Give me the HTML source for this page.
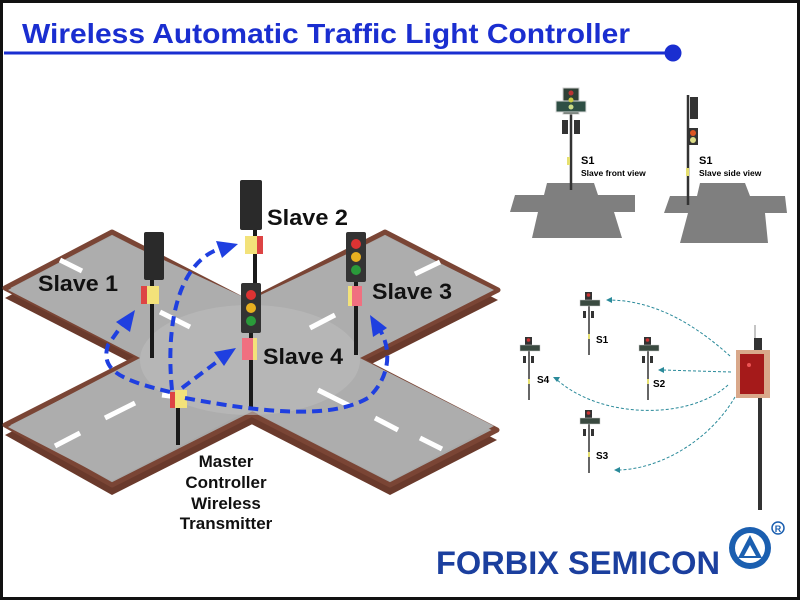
<!DOCTYPE html>
<html><head><meta charset="utf-8"><style>
html,body{margin:0;padding:0;background:#fff}
svg{display:block}
text{font-family:"Liberation Sans",Arial,sans-serif}
</style></head><body>
<svg width="800" height="600" viewBox="0 0 800 600" xmlns="http://www.w3.org/2000/svg">
<rect x="1.5" y="1.5" width="797" height="597" fill="#fff" stroke="#111" stroke-width="3"/>
<text x="22" y="43" font-size="28" font-weight="bold" fill="#1a2ed0" textLength="608" lengthAdjust="spacingAndGlyphs">Wireless Automatic Traffic Light Controller</text>
<line x1="4" y1="53" x2="672" y2="53" stroke="#1a2ed0" stroke-width="3"/>
<circle cx="673" cy="53" r="8.5" fill="#1a2ed0"/>

<g fill="#6a3a2c">
<polygon points="112,242 5,298 390,495 497,440"/>
<polygon points="385,242 498,300 112,495 5,435"/>
</g>
<g fill="#a8a8a8" stroke="#7a4535" stroke-width="5" stroke-linejoin="round">
<polygon points="112,232 5,288 390,485 497,430"/>
<polygon points="385,232 498,290 112,485 5,425"/>
</g>
<polygon points="112,236 250,300 385,236 494,290 360,358 494,426 390,481 250,410 112,481 8,427 140,358 8,290" fill="#adadad"/>
<ellipse cx="250" cy="360" rx="110" ry="55" fill="#bdbdbd" opacity="0.6"/>
<g stroke="#fff" stroke-width="5">
<line x1="60" y1="260" x2="82" y2="271"/><line x1="160" y1="312" x2="190" y2="327"/>
<line x1="440" y1="262" x2="415" y2="274"/><line x1="335" y1="315" x2="310" y2="328"/>
<line x1="318" y1="390" x2="350" y2="406"/><line x1="375" y1="418" x2="398" y2="430"/><line x1="420" y1="438" x2="442" y2="449"/>
<line x1="135" y1="403" x2="105" y2="418"/><line x1="80" y1="433" x2="55" y2="446"/>
<line x1="162" y1="395" x2="185" y2="398"/>
</g>

<g stroke="#1a1a1a" stroke-width="4">
<line x1="152" y1="275" x2="152" y2="358"/>
<line x1="255" y1="225" x2="255" y2="290"/>
<line x1="251" y1="330" x2="251" y2="410"/>
<line x1="356" y1="280" x2="356" y2="355"/>
<line x1="178" y1="405" x2="178" y2="445"/>
</g>
<rect x="144" y="232" width="20" height="48" rx="2" fill="#2a2a2a"/>
<rect x="240" y="180" width="22" height="50" rx="2" fill="#2a2a2a"/>
<rect x="241" y="283" width="20" height="50" rx="2" fill="#333"/>
<circle cx="251" cy="295" r="5" fill="#d33"/><circle cx="251" cy="308" r="5" fill="#e8b020"/><circle cx="251" cy="321" r="5" fill="#2a9a3a"/>
<rect x="346" y="232" width="20" height="50" rx="2" fill="#333"/>
<circle cx="356" cy="244" r="5" fill="#d33"/><circle cx="356" cy="257" r="5" fill="#e8b020"/><circle cx="356" cy="270" r="5" fill="#2a9a3a"/>
<rect x="141" y="286" width="6" height="18" fill="#d44"/><rect x="147" y="286" width="12" height="18" fill="#f3e27a"/>
<rect x="245" y="236" width="12" height="18" fill="#f3e27a"/><rect x="257" y="236" width="6" height="18" fill="#d44"/>
<rect x="348" y="286" width="14" height="20" fill="#f07080"/><rect x="348" y="286" width="4" height="20" fill="#f3e27a"/>
<rect x="242" y="338" width="14" height="22" fill="#f07080"/><rect x="253" y="338" width="4" height="22" fill="#f3e27a"/>
<rect x="170" y="392" width="6" height="16" fill="#d44"/><rect x="175" y="390" width="12" height="18" fill="#f3e27a"/>

<g fill="none" stroke="#1f3fe0" stroke-width="4" stroke-dasharray="10,6">
<path d="M170,392 C120,380 100,370 108,345 L122,325"/>
<path d="M172,390 C165,320 180,260 222,248"/>
<path d="M182,388 L222,358"/>
<path d="M185,398 C260,412 330,420 368,398 C390,378 392,350 380,330"/>
</g>
<g fill="#1f3fe0">
<polygon points="135,310 130,332 116,322"/>
<polygon points="238,244 222,258 216,241"/>
<polygon points="236,348 224,366 214,352"/>
<polygon points="370,315 387,328 373,337"/>
</g>

<g font-size="22" font-weight="bold" fill="#111">
<text x="38" y="291" textLength="80" lengthAdjust="spacingAndGlyphs">Slave 1</text>
<text x="267" y="225" textLength="81" lengthAdjust="spacingAndGlyphs">Slave 2</text>
<text x="372" y="299" textLength="80" lengthAdjust="spacingAndGlyphs">Slave 3</text>
<text x="263" y="364" textLength="80" lengthAdjust="spacingAndGlyphs">Slave 4</text>
</g>
<g font-size="17" font-weight="bold" fill="#111" text-anchor="middle">
<text x="226" y="467">Master</text><text x="226" y="488">Controller</text>
<text x="226" y="509">Wireless</text><text x="226" y="529">Transmitter</text>
</g>

<g fill="#7f7f7f">
<polygon points="547,183 594,183 598,195 635,195 635,212 614,212 622,238 532,238 538,212 510,212 515,195 544,195"/>
<polygon points="700,183 745,183 750,196 785,196 787,213 765,213 768,243 680,243 688,213 664,213 670,196 697,196"/>
</g>
<line x1="571" y1="110" x2="571" y2="190" stroke="#333" stroke-width="2.5"/>
<rect x="563" y="88" width="16" height="26" fill="#2f3f35" stroke="#ccc"/>
<rect x="556" y="101" width="30" height="11" fill="#2f4f45" stroke="#ddd"/>
<circle cx="571" cy="93" r="2.5" fill="#b33"/><circle cx="571" cy="100" r="2.5" fill="#cc4"/><circle cx="571" cy="107" r="2.5" fill="#cd8"/>
<rect x="562" y="120" width="6" height="14" fill="#333"/><rect x="574" y="120" width="6" height="14" fill="#333"/>
<rect x="567" y="157" width="3" height="8" fill="#e6e070"/>
<line x1="688" y1="95" x2="688" y2="205" stroke="#333" stroke-width="2.5"/>
<rect x="690" y="97" width="8" height="22" fill="#333"/>
<rect x="689" y="128" width="9" height="17" fill="#333"/>
<circle cx="693" cy="133" r="3" fill="#d52"/><circle cx="693" cy="140" r="3" fill="#dd8"/>
<rect x="686" y="168" width="3" height="8" fill="#e6e070"/>
<text x="581" y="164" font-size="11" font-weight="bold">S1</text>
<text x="581" y="176" font-size="8.5" font-weight="bold">Slave front view</text>
<text x="699" y="164" font-size="11" font-weight="bold">S1</text>
<text x="699" y="176" font-size="8.5" font-weight="bold">Slave side view</text>

<g id="sp">
<line x1="589" y1="298" x2="589" y2="355" stroke="#333" stroke-width="1.5"/>
<rect x="585" y="292" width="7" height="12" fill="#333"/><circle cx="588.5" cy="295" r="1.8" fill="#c33"/>
<rect x="580" y="300" width="20" height="6" fill="#3a4a40" stroke="#ccc" stroke-width="0.5"/>
<rect x="583" y="311" width="3" height="7" fill="#333"/><rect x="591" y="311" width="3" height="7" fill="#333"/>
<rect x="588" y="334" width="2" height="5" fill="#e6e070"/>
</g>
<use href="#sp" x="-60" y="45"/><use href="#sp" x="59" y="45"/><use href="#sp" x="0" y="118"/>
<g font-size="10" font-weight="bold">
<text x="596" y="343">S1</text><text x="537" y="383">S4</text><text x="653" y="387">S2</text><text x="596" y="459">S3</text>
</g>
<line x1="760" y1="398" x2="760" y2="510" stroke="#333" stroke-width="4"/>
<line x1="755" y1="325" x2="755" y2="340" stroke="#888" stroke-width="1"/>
<rect x="754" y="338" width="8" height="12" fill="#333"/>
<rect x="736" y="350" width="34" height="48" fill="#d9a88a"/>
<rect x="740" y="354" width="24" height="40" fill="#a51a1a"/>
<circle cx="749" cy="365" r="2" fill="#e55"/>
<g fill="none" stroke="#2a8a9a" stroke-width="1" stroke-dasharray="3,2">
<path d="M730,356 C690,320 650,300 608,300"/>
<path d="M731,372 L662,370"/>
<path d="M728,385 C690,420 600,420 555,378"/>
<path d="M735,397 C710,440 660,470 616,470"/>
</g>
<g fill="#2a8a9a">
<polygon points="606,300 612,297 612,303"/><polygon points="658,370 664,367 664,373"/>
<polygon points="553,377 560,377 557,382"/><polygon points="614,470 620,467 620,473"/>
</g>

<text x="436" y="574" font-size="32" font-weight="bold" fill="#1b3f9e" textLength="284" lengthAdjust="spacingAndGlyphs">FORBIX SEMICON</text>
<circle cx="750" cy="548" r="21" fill="#1b5fb0"/>
<circle cx="750" cy="548" r="15" fill="#fff"/>
<polygon points="750,535 762,558 738,558" fill="#1b5fb0"/>
<polygon points="750,545 756,556 744,556" fill="#fff"/>
<circle cx="778" cy="528" r="6" fill="none" stroke="#1b5fb0" stroke-width="1.5"/>
<text x="778" y="532" font-size="9" font-weight="bold" fill="#1b5fb0" text-anchor="middle">R</text>
</svg>
</body></html>
